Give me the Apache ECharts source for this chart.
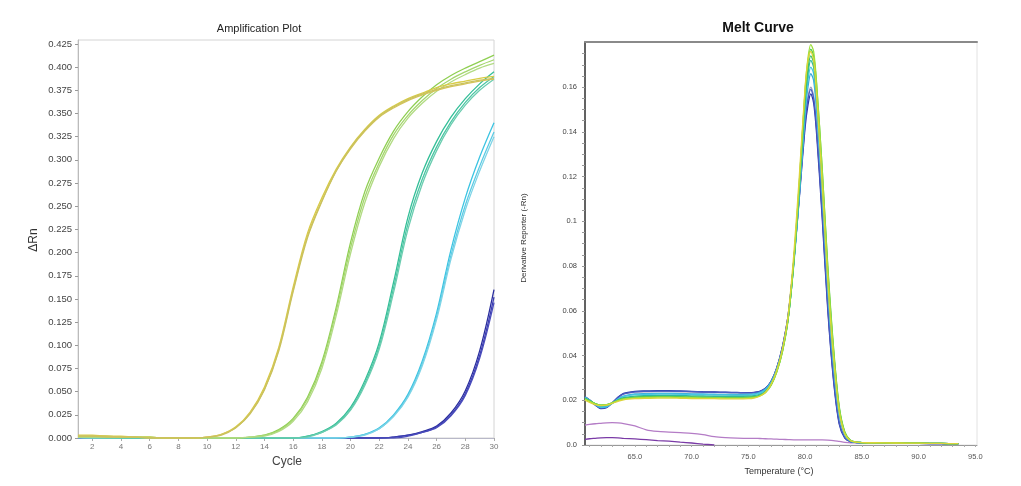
<!DOCTYPE html>
<html><head><meta charset="utf-8">
<script src="https://cdn.jsdelivr.net/npm/echarts@6/dist/echarts.min.js"></script>
<style>html,body{margin:0;padding:0;background:#fff}#c{width:1021px;height:486px}</style>
</head><body><div id="c"></div>
<script>
// ---------- Amplification plot data ----------
const cycles = [1,2,3,4,5,6,7,8,9,10,11,12,13,14,15,16,17,18,19,20,21,22,23,24,25,26,27,28,29,30];
const ampYellow1 = [0.003,0.003,0.002,0.002,0.001,0.001,0.000,0.000,0.000,0.001,0.004,0.012,0.028,0.055,0.098,0.163,0.221,0.259,0.290,0.314,0.333,0.348,0.358,0.366,0.372,0.378,0.382,0.385,0.388,0.390];
const ampYellow2 = [0.002,0.002,0.002,0.001,0.001,0.000,0.000,0.000,0.000,0.001,0.004,0.011,0.027,0.053,0.096,0.160,0.218,0.256,0.288,0.312,0.331,0.346,0.356,0.364,0.370,0.375,0.379,0.382,0.385,0.387];
const ampYellow3 = [0.002,0.002,0.001,0.001,0.001,0.000,0.000,0.000,0.000,0.001,0.003,0.011,0.026,0.052,0.094,0.158,0.216,0.255,0.288,0.313,0.332,0.347,0.357,0.365,0.371,0.376,0.380,0.383,0.386,0.388];
const ampGreen1 = [0.002,0.002,0.002,0.001,0.001,0.001,0.000,0.000,0.000,0.000,0.000,0.000,0.001,0.003,0.009,0.021,0.044,0.082,0.141,0.211,0.266,0.302,0.331,0.352,0.368,0.381,0.391,0.399,0.406,0.413];
const ampGreen2 = [0.001,0.001,0.001,0.001,0.001,0.001,0.000,0.000,0.000,0.000,0.000,0.000,0.001,0.003,0.008,0.020,0.042,0.079,0.137,0.205,0.260,0.297,0.327,0.348,0.364,0.377,0.387,0.395,0.402,0.408];
const ampGreen3 = [0.001,0.001,0.001,0.001,0.001,0.000,0.000,0.000,0.000,0.000,0.000,0.000,0.001,0.002,0.007,0.018,0.039,0.075,0.132,0.199,0.254,0.293,0.323,0.345,0.361,0.374,0.384,0.392,0.399,0.404];
const ampTeal1 = [0.001,0.001,0.001,0.000,0.000,0.000,0.000,0.000,0.000,0.000,0.000,0.000,0.000,0.000,0.000,0.000,0.002,0.007,0.016,0.033,0.062,0.103,0.168,0.238,0.286,0.320,0.346,0.366,0.382,0.395];
const ampTeal2 = [0.001,0.001,0.000,0.000,0.000,0.000,0.000,0.000,0.000,0.000,0.000,0.000,0.000,0.000,0.000,0.000,0.002,0.006,0.015,0.031,0.059,0.099,0.162,0.231,0.279,0.314,0.341,0.362,0.378,0.390];
const ampTeal3 = [0.001,0.000,0.000,0.000,0.000,0.000,0.000,0.000,0.000,0.000,0.000,0.000,0.000,0.000,0.000,0.000,0.001,0.006,0.014,0.030,0.057,0.096,0.157,0.225,0.274,0.310,0.338,0.359,0.375,0.387];
const ampCyan1 = [0.001,0.001,0.000,0.000,0.000,0.000,0.000,0.000,0.000,0.000,0.000,0.000,0.000,0.000,0.000,0.000,0.000,0.000,0.000,0.001,0.004,0.011,0.025,0.047,0.083,0.135,0.203,0.259,0.303,0.340];
const ampCyan2 = [0.001,0.000,0.000,0.000,0.000,0.000,0.000,0.000,0.000,0.000,0.000,0.000,0.000,0.000,0.000,0.000,0.000,0.000,0.000,0.001,0.004,0.010,0.024,0.045,0.080,0.131,0.197,0.251,0.293,0.330];
const ampCyan3 = [0.000,0.000,0.000,0.000,0.000,0.000,0.000,0.000,0.000,0.000,0.000,0.000,0.000,0.000,0.000,0.000,0.000,0.000,0.000,0.001,0.003,0.010,0.023,0.044,0.078,0.128,0.193,0.246,0.288,0.325];
const ampBlue1 = [0.000,0.000,0.000,0.000,0.000,0.000,0.000,0.000,0.000,0.000,0.000,0.000,0.000,0.000,0.000,0.000,0.000,0.000,0.000,0.000,0.000,0.000,0.001,0.003,0.007,0.013,0.027,0.051,0.094,0.160];
const ampBlue2 = [0.000,0.000,0.000,0.000,0.000,0.000,0.000,0.000,0.000,0.000,0.000,0.000,0.000,0.000,0.000,0.000,0.000,0.000,0.000,0.000,0.000,0.000,0.001,0.003,0.006,0.012,0.025,0.048,0.089,0.152];
const ampBlue3 = [0.000,0.000,0.000,0.000,0.000,0.000,0.000,0.000,0.000,0.000,0.000,0.000,0.000,0.000,0.000,0.000,0.000,0.000,0.000,0.000,0.000,0.000,0.000,0.002,0.006,0.011,0.024,0.046,0.086,0.146];
const ampXTicks = [2,4,6,8,10,12,14,16,18,20,22,24,26,28,30];
const ampYTicks = [0,0.025,0.05,0.075,0.1,0.125,0.15,0.175,0.2,0.225,0.25,0.275,0.3,0.325,0.35,0.375,0.4,0.425];

// ---------- Melt curve data ----------
const temps = [60.6,61,61.5,62,62.5,63,63.5,64,65,66,67,68,69,70,71,72,73,74,75,75.5,76,76.5,77,77.5,78,78.5,79,79.5,80,80.25,80.5,80.75,81,81.5,82,82.5,83,83.5,84,84.5,85,86,88,90,92,93.5];
const meltGray   = [0.0215,0.0202,0.0182,0.0168,0.0171,0.0189,0.0211,0.0227,0.0236,0.0238,0.0239,0.0239,0.0238,0.0237,0.0236,0.0235,0.0234,0.0233,0.0233,0.0234,0.0239,0.0253,0.0284,0.0343,0.0436,0.0575,0.0820,0.1125,0.1450,0.1555,0.1600,0.1560,0.1430,0.1050,0.0625,0.0305,0.0105,0.0035,0.0016,0.0012,0.0010,0.0009,0.0008,0.0007,0.0006,0.0005];
const meltBlue1  = [0.0216,0.0201,0.0179,0.0163,0.0167,0.0188,0.0213,0.0231,0.0240,0.0242,0.0243,0.0243,0.0242,0.0240,0.0238,0.0237,0.0236,0.0235,0.0234,0.0235,0.0240,0.0254,0.0285,0.0345,0.0440,0.0580,0.0820,0.1110,0.1420,0.1520,0.1570,0.1530,0.1400,0.1020,0.0600,0.0290,0.0095,0.0031,0.0015,0.0011,0.0010,0.0009,0.0008,0.0007,0.0006,0.0005];
const meltBlue2  = [0.0214,0.0200,0.0179,0.0165,0.0169,0.0189,0.0212,0.0229,0.0238,0.0240,0.0241,0.0241,0.0240,0.0239,0.0237,0.0236,0.0235,0.0234,0.0233,0.0234,0.0239,0.0253,0.0284,0.0344,0.0438,0.0578,0.0822,0.1120,0.1440,0.1545,0.1590,0.1550,0.1420,0.1040,0.0615,0.0300,0.0100,0.0033,0.0015,0.0011,0.0010,0.0009,0.0008,0.0007,0.0006,0.0005];
const meltCyan1  = [0.0212,0.0200,0.0182,0.0170,0.0172,0.0187,0.0205,0.0217,0.0225,0.0227,0.0228,0.0228,0.0227,0.0226,0.0225,0.0224,0.0224,0.0223,0.0224,0.0226,0.0232,0.0247,0.0279,0.0338,0.0428,0.0565,0.0810,0.1130,0.1500,0.1630,0.1690,0.1660,0.1530,0.1150,0.0710,0.0370,0.0140,0.0046,0.0018,0.0012,0.0011,0.0010,0.0009,0.0008,0.0007,0.0006];
const meltCyan2  = [0.0214,0.0201,0.0181,0.0167,0.0170,0.0186,0.0206,0.0219,0.0228,0.0230,0.0231,0.0231,0.0230,0.0229,0.0228,0.0227,0.0226,0.0226,0.0227,0.0229,0.0235,0.0250,0.0281,0.0340,0.0430,0.0565,0.0805,0.1120,0.1480,0.1600,0.1660,0.1630,0.1500,0.1120,0.0690,0.0355,0.0132,0.0043,0.0017,0.0012,0.0011,0.0010,0.0009,0.0008,0.0007,0.0006];
const meltTeal   = [0.0210,0.0199,0.0184,0.0174,0.0176,0.0188,0.0202,0.0212,0.0219,0.0221,0.0222,0.0222,0.0221,0.0220,0.0219,0.0218,0.0218,0.0218,0.0219,0.0221,0.0227,0.0242,0.0274,0.0334,0.0425,0.0565,0.0815,0.1150,0.1530,0.1660,0.1720,0.1690,0.1560,0.1180,0.0740,0.0390,0.0150,0.0050,0.0019,0.0013,0.0011,0.0010,0.0009,0.0008,0.0007,0.0006];
const meltGreen1 = [0.0208,0.0198,0.0185,0.0177,0.0179,0.0188,0.0199,0.0207,0.0213,0.0215,0.0216,0.0216,0.0215,0.0214,0.0213,0.0212,0.0212,0.0212,0.0213,0.0215,0.0221,0.0236,0.0268,0.0328,0.0420,0.0565,0.0825,0.1180,0.1580,0.1710,0.1770,0.1740,0.1620,0.1240,0.0800,0.0440,0.0175,0.0058,0.0021,0.0013,0.0011,0.0010,0.0009,0.0008,0.0007,0.0006];
const meltGreen2 = [0.0206,0.0197,0.0185,0.0178,0.0180,0.0189,0.0200,0.0208,0.0214,0.0216,0.0217,0.0217,0.0216,0.0215,0.0214,0.0213,0.0213,0.0213,0.0214,0.0216,0.0222,0.0237,0.0269,0.0328,0.0418,0.0560,0.0815,0.1160,0.1550,0.1680,0.1740,0.1710,0.1590,0.1210,0.0770,0.0420,0.0165,0.0055,0.0020,0.0013,0.0011,0.0010,0.0009,0.0008,0.0007,0.0006];
const meltLime   = [0.0205,0.0196,0.0184,0.0178,0.0180,0.0189,0.0199,0.0206,0.0211,0.0213,0.0214,0.0214,0.0213,0.0212,0.0211,0.0211,0.0210,0.0210,0.0211,0.0213,0.0219,0.0234,0.0266,0.0325,0.0415,0.0560,0.0820,0.1180,0.1590,0.1730,0.1790,0.1760,0.1630,0.1240,0.0790,0.0430,0.0170,0.0055,0.0020,0.0013,0.0011,0.0010,0.0009,0.0008,0.0007,0.0006];
const meltYellow = [0.0200,0.0191,0.0180,0.0176,0.0178,0.0186,0.0195,0.0202,0.0207,0.0209,0.0210,0.0210,0.0209,0.0208,0.0207,0.0207,0.0206,0.0206,0.0207,0.0210,0.0218,0.0236,0.0272,0.0335,0.0430,0.0580,0.0850,0.1210,0.1600,0.1720,0.1760,0.1720,0.1570,0.1170,0.0730,0.0390,0.0150,0.0048,0.0019,0.0013,0.0011,0.0010,0.0009,0.0008,0.0007,0.0006];
const meltNtc1   = [0.0089,0.0092,0.0095,0.0097,0.0099,0.0100,0.0099,0.0096,0.0085,0.0068,0.0061,0.0058,0.0055,0.0052,0.0046,0.0037,0.0033,0.0031,0.0030,0.0030,0.0029,0.0028,0.0027,0.0026,0.0025,0.0024,0.0023,0.0023,0.0023,0.0023,0.0023,0.0023,0.0023,0.0023,0.0022,0.0020,0.0016,0.0012,0.0010,0.0010,0.0010,0.0010,0.0009,0.0008,0.0007,0.0006];
const meltNtc2   = [0.0025,0.0028,0.0030,0.0032,0.0033,0.0033,0.0032,0.0030,0.0027,0.0024,0.0020,0.0017,0.0013,0.0009,0.0004,0.0000];
const meltXTicks = [65,70,75,80,85,90,95];
const meltXMinor = [61,62,63,64,65,66,67,68,69,70,71,72,73,74,75,76,77,78,79,80,81,82,83,84,85,86,87,88,89,90,91,92,93,94,95];
const meltYTicks = [0,0.02,0.04,0.06,0.08,0.1,0.12,0.14,0.16];
const meltYMinor = [0,0.005,0.01,0.015,0.02,0.025,0.03,0.035,0.04,0.045,0.05,0.055,0.06,0.065,0.07,0.075,0.08,0.085,0.09,0.095,0.1,0.105,0.11,0.115,0.12,0.125,0.13,0.135,0.14,0.145,0.15,0.155,0.16,0.165,0.17,0.175];

// ---------- build ----------
function zip(xs, ys) { return ys.map((y, i) => [xs[i], y]); }
const FONT = 'Liberation Sans, Arial, sans-serif';

const ampSets = [
  [ampBlue1, '#2a2e9e'], [ampBlue2, '#3a3cb0'], [ampBlue3, '#4a4cbc'],
  [ampCyan1, '#3cc4e2'], [ampCyan2, '#5ccbe4'], [ampCyan3, '#7fd4e6'],
  [ampTeal1, '#34bf98'], [ampTeal2, '#4cc6a4'], [ampTeal3, '#6ccdb0'],
  [ampGreen1, '#8fcf52'], [ampGreen2, '#a4d66e'], [ampGreen3, '#b2db84'],
  [ampYellow1, '#d8cc46'], [ampYellow2, '#d6c45a'], [ampYellow3, '#c9c25e']
];
const meltSets = [
  [meltNtc1, '#b47cc6'], [meltNtc2, '#7a3aa6'],
  [meltGray, '#9c9cc0'], [meltBlue1, '#2a36a8'], [meltBlue2, '#4a5cc4'],
  [meltCyan2, '#3aa8d8'], [meltCyan1, '#45c8e4'], [meltTeal, '#2fb8a2'],
  [meltGreen2, '#3cc070'], [meltGreen1, '#4cc84c'], [meltLime, '#9ee03c'], [meltYellow, '#dcd43a']
];

const series = [];
ampSets.forEach(([d, c]) => series.push({
  type: 'line', xAxisIndex: 0, yAxisIndex: 0, data: zip(cycles, d),
  showSymbol: false, smooth: 0.35, lineStyle: { width: 1.3, color: c }, itemStyle: { color: c }, silent: true
}));
meltSets.forEach(([d, c]) => series.push({
  type: 'line', xAxisIndex: 1, yAxisIndex: 1, data: zip(temps, d),
  showSymbol: false, smooth: 0.3, lineStyle: { width: 1.3, color: c }, itemStyle: { color: c }, silent: true
}));

const chart = echarts.init(document.getElementById('c'), null, { renderer: 'canvas' });
chart.setOption({
  animation: false,
  backgroundColor: '#fff',
  grid: [
    { left: 78, right: 527, top: 40, bottom: 48, show: true, borderColor: '#d4d4d4', borderWidth: 1, containLabel: false },
    { left: 585, right: 44, top: 42, bottom: 41, show: true, borderColor: '#e2e2e2', borderWidth: 1, containLabel: false }
  ],
  xAxis: [
    { type: 'value', gridIndex: 0, min: 1, max: 30,
      axisLine: { show: true, lineStyle: { color: '#b8b8c8' } },
      axisTick: { show: true, length: 3, customValues: ampXTicks, lineStyle: { color: '#aaa' } },
      axisLabel: { customValues: ampXTicks, fontSize: 8, color: '#777', margin: 5, fontFamily: FONT },
      splitLine: { show: false } },
    { type: 'value', gridIndex: 1, min: 60.6, max: 95.15,
      axisLine: { show: true, lineStyle: { color: '#999' } },
      axisTick: { show: true, length: 2, customValues: meltXMinor, lineStyle: { color: '#aaa' } },
      axisLabel: { customValues: meltXTicks, fontSize: 7.5, color: '#555', margin: 8, fontFamily: FONT,
        formatter: v => v.toFixed(1) },
      splitLine: { show: false } },
    { type: 'value', gridIndex: 1, position: 'top', min: 60.6, max: 95.15,
      axisLine: { show: true, lineStyle: { color: '#8a8a8a', width: 2 } },
      axisTick: { show: false }, axisLabel: { show: false }, splitLine: { show: false } }
  ],
  yAxis: [
    { type: 'value', gridIndex: 0, min: 0, max: 0.4293,
      axisLine: { show: true, lineStyle: { color: '#bbb' } },
      axisTick: { show: true, length: 3, customValues: ampYTicks, lineStyle: { color: '#999' } },
      axisLabel: { customValues: ampYTicks, fontSize: 9.5, color: '#444', margin: 6, fontFamily: FONT,
        formatter: v => v.toFixed(3) },
      splitLine: { show: false } },
    { type: 'value', gridIndex: 1, min: 0, max: 0.1802,
      axisLine: { show: true, lineStyle: { color: '#333', width: 1.5 } },
      axisTick: { show: true, length: 3, customValues: meltYMinor, lineStyle: { color: '#999' } },
      axisLabel: { customValues: meltYTicks, fontSize: 7.5, color: '#444', margin: 8, fontFamily: FONT,
        formatter: v => v === 0 ? '0.0' : String(v) },
      splitLine: { show: false } }
  ],
  graphic: [
    { type: 'text', x: 259, y: 29, style: { text: 'Amplification Plot', font: '11px ' + FONT, fill: '#222', align: 'center', verticalAlign: 'middle' } },
    { type: 'text', x: 287, y: 462, style: { text: 'Cycle', font: '12px ' + FONT, fill: '#444', align: 'center', verticalAlign: 'middle' } },
    { type: 'text', x: 34, y: 240, rotation: Math.PI / 2, style: { text: 'ΔRn', font: '12px ' + FONT, fill: '#333', align: 'center', verticalAlign: 'middle' } },
    { type: 'text', x: 758, y: 28, style: { text: 'Melt Curve', font: 'bold 14px ' + FONT, fill: '#111', align: 'center', verticalAlign: 'middle' } },
    { type: 'text', x: 779, y: 472, style: { text: 'Temperature (°C)', font: '9px ' + FONT, fill: '#333', align: 'center', verticalAlign: 'middle' } },
    { type: 'text', x: 524, y: 238, rotation: Math.PI / 2, style: { text: 'Derivative Reporter (-Rn)', font: '8px ' + FONT, fill: '#333', align: 'center', verticalAlign: 'middle' } }
  ],
  series: series
});
</script></body></html>
